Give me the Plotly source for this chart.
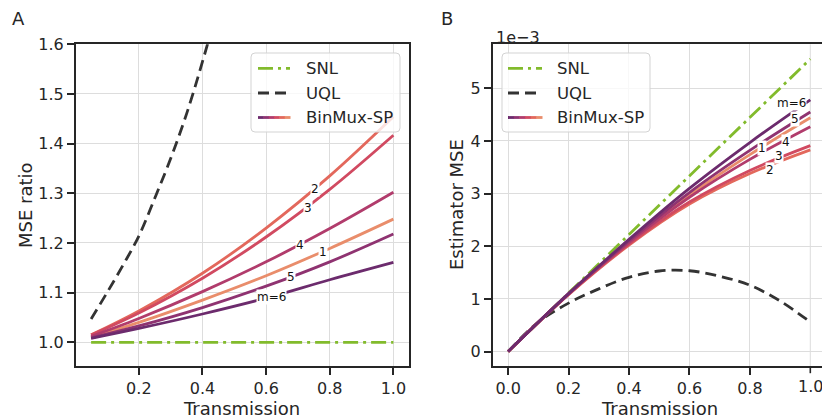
import plotly.graph_objects as go

W, H = 822, 420

# ---------------- Panel A data: MSE ratio vs transmission ----------------
x_a = [0.05, 0.2, 0.4, 0.6, 0.8, 1.0]
ratio_m1 = [1.010, 1.040, 1.085, 1.134, 1.189, 1.248]
ratio_m2 = [1.015, 1.063, 1.139, 1.230, 1.335, 1.454]
ratio_m3 = [1.0147, 1.059, 1.129, 1.212, 1.308, 1.417]
ratio_m4 = [1.012, 1.048, 1.102, 1.162, 1.229, 1.302]
ratio_m5 = [1.009, 1.033, 1.070, 1.113, 1.162, 1.218]
ratio_m6 = [1.008, 1.028, 1.057, 1.089, 1.126, 1.161]
snl_ratio_x = [0.05, 1.0]
snl_ratio = [1.0, 1.0]
uql_ratio_x = [0.05, 0.1, 0.15, 0.2, 0.25, 0.3, 0.35, 0.4, 0.45, 0.5]
uql_ratio = [1.047, 1.100, 1.155, 1.214, 1.290, 1.370, 1.460, 1.565, 1.680, 1.810]

# ---------------- Panel B data: estimator MSE (x 1e-3) ----------------
x_b = [0.0, 0.2, 0.4, 0.6, 0.8, 1.0]
mse_m1 = [0, 1.09, 2.08, 2.97, 3.74, 4.44]
mse_m2 = [0, 1.08, 2.02, 2.80, 3.38, 3.83]
mse_m3 = [0, 1.09, 2.04, 2.84, 3.44, 3.91]
mse_m4 = [0, 1.09, 2.07, 2.93, 3.65, 4.27]
mse_m5 = [0, 1.10, 2.10, 3.02, 3.82, 4.55]
mse_m6 = [0, 1.10, 2.13, 3.10, 3.97, 4.78]
snl_mse = [0, 1.111, 2.223, 3.334, 4.446, 5.557]
uql_mse_x = [0.0, 0.1, 0.2, 0.3, 0.4, 0.5, 0.6, 0.7, 0.8, 0.9, 1.0]
uql_mse = [0, 0.56, 0.92, 1.19, 1.41, 1.53, 1.535, 1.43, 1.26, 0.96, 0.56]

m_labels = ["1", "2", "3", "4", "5", "m=6"]
flare = ["#e98d6b", "#e3685c", "#d14a61", "#b13c6c", "#8f3371", "#6c2b6d"]

# tick labels
xticks_a = [0.2, 0.4, 0.6, 0.8, 1.0]
yticks_a = [1.0, 1.1, 1.2, 1.3, 1.4, 1.5, 1.6]
xticks_b = [0.0, 0.2, 0.4, 0.6, 0.8, 1.0]
yticks_b = [0, 1, 2, 3, 4, 5]

# label anchor positions (data coords) for the m labels
lab_a_x = [0.778, 0.754, 0.733, 0.705, 0.679, 0.618]
lab_a_y = [1.181, 1.308, 1.271, 1.196, 1.132, 1.092]
lab_b_x = [0.841, 0.867, 0.896, 0.920, 0.949, 0.938]
lab_b_y = [3.86, 3.44, 3.71, 3.98, 4.42, 4.72]

SNL_COLOR = "#82bb2c"
UQL_COLOR = "#333333"
AX = "#262626"
GRID = "#dddddd"
FONT = "DejaVu Sans"
LW = 2.8


def px_x(p):
    return p / W


def px_y(p):
    return 1 - p / H


fig = go.Figure()

ratio_series = [ratio_m1, ratio_m2, ratio_m3, ratio_m4, ratio_m5, ratio_m6]
mse_series = [mse_m1, mse_m2, mse_m3, mse_m4, mse_m5, mse_m6]

# Panel A traces
fig.add_trace(go.Scatter(x=snl_ratio_x, y=snl_ratio, mode="lines", xaxis="x", yaxis="y",
                         line=dict(color=SNL_COLOR, width=LW, dash="15px,5px,3px,5px"),
                         showlegend=False))
fig.add_trace(go.Scatter(x=uql_ratio_x, y=uql_ratio, mode="lines", xaxis="x", yaxis="y",
                         line=dict(color=UQL_COLOR, width=LW, dash="11px,6px", shape="spline"),
                         showlegend=False))
for i, ys in enumerate(ratio_series):
    fig.add_trace(go.Scatter(x=x_a, y=ys, mode="lines", xaxis="x", yaxis="y",
                             line=dict(color=flare[i], width=LW, shape="spline"),
                             showlegend=False))

# Panel B traces
fig.add_trace(go.Scatter(x=x_b, y=snl_mse, mode="lines", xaxis="x2", yaxis="y2",
                         line=dict(color=SNL_COLOR, width=LW, dash="15px,5px,3px,5px"),
                         showlegend=False))
fig.add_trace(go.Scatter(x=uql_mse_x, y=uql_mse, mode="lines", xaxis="x2", yaxis="y2",
                         line=dict(color=UQL_COLOR, width=LW, dash="11px,6px", shape="spline"),
                         showlegend=False))
for i, ys in enumerate(mse_series):
    fig.add_trace(go.Scatter(x=x_b, y=ys, mode="lines", xaxis="x2", yaxis="y2",
                             line=dict(color=flare[i], width=LW, shape="spline"),
                             showlegend=False))

annotations = []
for i in range(6):
    annotations.append(dict(x=lab_a_x[i], y=lab_a_y[i], xref="x", yref="y", text=m_labels[i],
                            showarrow=False, font=dict(family=FONT, size=12, color="#111111"),
                            bgcolor="white", borderpad=0))
    annotations.append(dict(x=lab_b_x[i], y=lab_b_y[i], xref="x2", yref="y2", text=m_labels[i],
                            showarrow=False, font=dict(family=FONT, size=12, color="#111111"),
                            bgcolor="white", borderpad=0))


# panel letters, axis titles, offset text
def ptext(x, y, text, size, angle=0, xanchor="center"):
    annotations.append(dict(x=px_x(x), y=px_y(y), xref="paper", yref="paper", text=text,
                            showarrow=False, textangle=angle, xanchor=xanchor, yanchor="middle",
                            font=dict(family=FONT, size=size, color=AX)))


ptext(18.5, 19, "A", 18)
ptext(447, 19, "B", 18)
ptext(242, 408, "Transmission", 18)
ptext(659, 408, "Transmission", 18)
ptext(25, 205, "MSE ratio", 18, angle=-90)
ptext(456, 205, "Estimator MSE", 18, angle=-90)
ptext(494, 37.5, "1e\u22123", 16, xanchor="left")

# last x tick label of panel B (reaches the page edge, plotly would hide it)
annotations.append(dict(x=xticks_b[-1], y=px_y(386), xref="x2", yref="paper",
                        text=f"{xticks_b[-1]:.1f}", showarrow=False, xanchor="center",
                        yanchor="middle", font=dict(family=FONT, size=16, color=AX)))

shapes = []
# gridline + tick mark for the last x tick of panel B
shapes.append(dict(type="line", xref="x2", yref="paper", layer="below",
                   x0=xticks_b[-1], x1=xticks_b[-1], y0=px_y(366.2), y1=px_y(44.3),
                   line=dict(color=GRID, width=1)))
shapes.append(dict(type="line", xref="x2", yref="paper", layer="above",
                   x0=xticks_b[-1], x1=xticks_b[-1], y0=px_y(366.2), y1=px_y(373.2),
                   line=dict(color=AX, width=1.6)))


def rounded_rect(x0, y0, x1, y1, r=4):
    X0, X1 = px_x(x0), px_x(x1)
    Y0, Y1 = px_y(y0), px_y(y1)  # Y0 top, Y1 bottom (paper)
    rx, ry = r / W, r / H
    return (f"M {X0+rx},{Y0} L {X1-rx},{Y0} Q {X1},{Y0} {X1},{Y0-ry} "
            f"L {X1},{Y1+ry} Q {X1},{Y1} {X1-rx},{Y1} L {X0+rx},{Y1} "
            f"Q {X0},{Y1} {X0},{Y1+ry} L {X0},{Y0-ry} Q {X0},{Y0} {X0+rx},{Y0} Z")


def legend(bx0, by0, bx1, by1, lx0, lx1, tx, rows):
    shapes.append(dict(type="path", xref="paper", yref="paper", layer="above",
                       path=rounded_rect(bx0, by0, bx1, by1),
                       fillcolor="rgba(255,255,255,0.8)", line=dict(color="#d3d3d3", width=1)))
    names = ["SNL", "UQL", "BinMux-SP"]
    for k, yy in enumerate(rows):
        if k == 0:
            shapes.append(dict(type="line", xref="paper", yref="paper", layer="above",
                               x0=px_x(lx0), x1=px_x(lx1), y0=px_y(yy), y1=px_y(yy),
                               line=dict(color=SNL_COLOR, width=LW, dash="15px,5px,3px,5px")))
        elif k == 1:
            shapes.append(dict(type="line", xref="paper", yref="paper", layer="above",
                               x0=px_x(lx0), x1=px_x(lx1), y0=px_y(yy), y1=px_y(yy),
                               line=dict(color=UQL_COLOR, width=LW, dash="11px,6px")))
        else:
            n = len(flare)
            seg = (lx1 - lx0) / n
            for j in range(n):
                c = flare[n - 1 - j]
                shapes.append(dict(type="line", xref="paper", yref="paper", layer="above",
                                   x0=px_x(lx0 + j * seg), x1=px_x(lx0 + (j + 1) * seg + 0.5),
                                   y0=px_y(yy), y1=px_y(yy),
                                   line=dict(color=c, width=LW)))
        annotations.append(dict(x=px_x(tx), y=px_y(yy), xref="paper", yref="paper",
                                text=names[k], showarrow=False, xanchor="left", yanchor="middle",
                                font=dict(family=FONT, size=16.5, color=AX)))


legend(251, 53, 400, 132, 258, 290, 304, [68.3, 93, 117.5])
legend(502, 53, 650, 132, 508, 542, 555, [68.3, 93, 117.5])

axis_common = dict(showgrid=True, gridcolor=GRID, gridwidth=1, zeroline=False,
                   showline=True, linecolor=AX, linewidth=2, ticks="outside", ticklen=7,
                   tickwidth=1.6, tickcolor=AX, ticklabeloverflow="allow", automargin=False,
                   tickfont=dict(family=FONT, size=16, color=AX))

xa_dom = [px_x(76), px_x(408.5)]
xb_dom = [px_x(493), 1.0]
y_dom = [px_y(366.2), px_y(44.3)]

fig.update_layout(
    width=W, height=H, autosize=False,
    margin=dict(l=0, r=0, t=0, b=0, pad=0),
    paper_bgcolor="white", plot_bgcolor="white",
    font=dict(family=FONT, color=AX),
    showlegend=False,
    xaxis=dict(domain=xa_dom, range=[0.0025, 1.0475], anchor="y", mirror=True,
               tickvals=xticks_a, ticktext=[f"{v:.1f}" for v in xticks_a], **axis_common),
    yaxis=dict(domain=y_dom, range=[0.9519, 1.6], anchor="x", mirror=True,
               tickvals=yticks_a, ticktext=[f"{v:.1f}" for v in yticks_a], **axis_common),
    xaxis2=dict(domain=xb_dom, range=[-0.05, 1.0387], anchor="y2", mirror=True,
                tickvals=xticks_b[:-1], ticktext=[f"{v:.1f}" for v in xticks_b[:-1]],
                **axis_common),
    yaxis2=dict(domain=y_dom, range=[-0.278, 5.835], anchor="x2", mirror=False,
                tickvals=yticks_b, ticktext=[str(v) for v in yticks_b], **axis_common),
    annotations=annotations,
    shapes=shapes,
)

fig.write_html("out.html",
               post_script="document.body.style.margin='0';"
                           "document.documentElement.style.overflow='hidden';"
                           "document.body.style.overflow='hidden';")
